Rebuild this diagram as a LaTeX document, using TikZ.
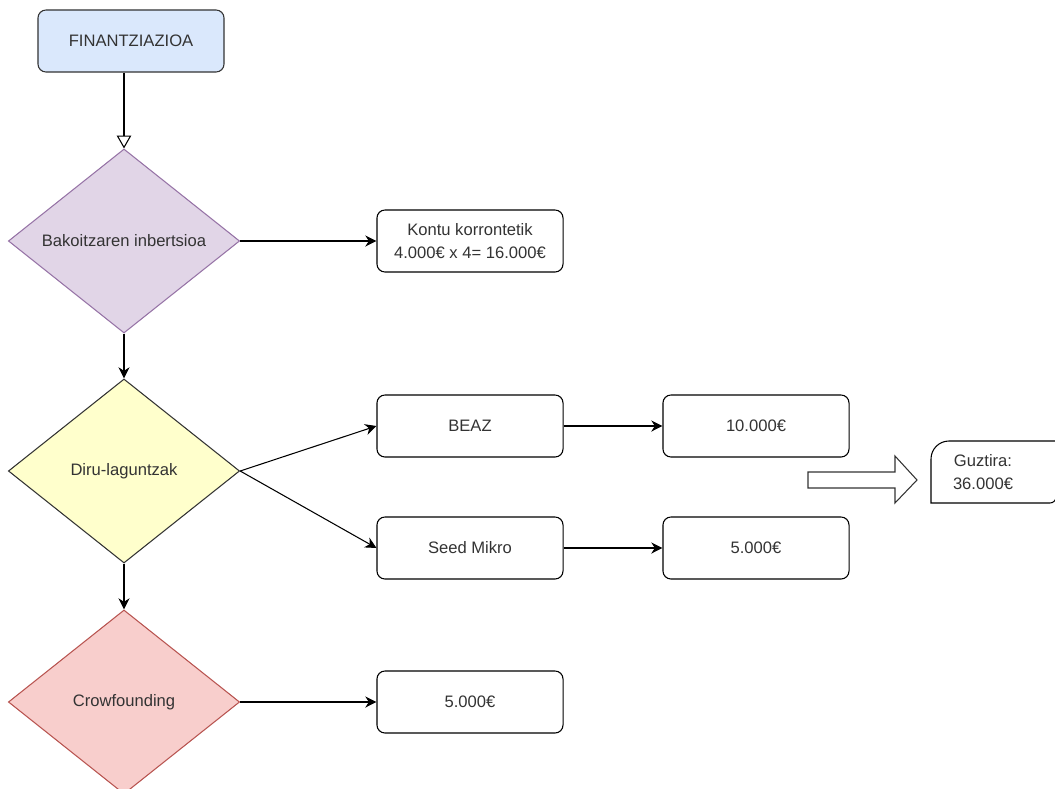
\documentclass[tikz,border=0pt]{standalone}
\usepackage{fontspec}
\setmainfont{Liberation Sans}
\usetikzlibrary{shapes.geometric,arrows.meta}
\definecolor{finblue}{HTML}{DAE8FC}
\definecolor{bakpurple}{HTML}{E1D5E7}
\definecolor{bakline}{HTML}{9673A6}
\definecolor{diruyellow}{HTML}{FFFFCC}
\definecolor{crowred}{HTML}{F8CECC}
\definecolor{crowline}{HTML}{B85450}
\definecolor{textgray}{HTML}{333333}
\begin{document}
\begin{tikzpicture}[x=0.025cm, y=-0.025cm,
    every node/.style={font=\fontsize{11.8}{16}\selectfont, text=textgray},
    box/.style={rectangle, rounded corners=0.2cm, draw=black, line width=0.75pt,
      minimum width=4.65cm, minimum height=1.55cm, align=center, inner sep=1pt},
    decision/.style={diamond, draw, line width=0.75pt, minimum width=5.78cm,
      minimum height=4.6cm, inner sep=0pt},
    flow/.style={-{Stealth[length=2.8mm,width=2.8mm,inset=0.9mm]}, line width=0.75pt}]
   \useasboundingbox (0,0) rectangle (1055,789);
   \clip (0,0) rectangle (1055,789);
   \node[box, fill=finblue, draw=textgray] (fin) at (131,41) {FINANTZIAZIOA};
   \node[decision, fill=bakpurple, draw=bakline] (bak) at (124,241) {Bakoitzaren inbertsioa};
   \node[decision, fill=diruyellow, draw=textgray] (diru) at (124,471) {Diru-laguntzak};
   \node[decision, fill=crowred, draw=crowline] (crow) at (124,702) {Crowfounding};
   \node[box] (kontu) at (470,241) {Kontu korrontetik\\4.000€ x 4= 16.000€};
   \node[box] (beaz) at (470,426) {BEAZ};
   \node[box] (seed) at (470,548) {Seed Mikro};
   \node[box] (hamar) at (756,426) {10.000€};
   \node[box] (bost) at (756,548) {5.000€};
   \node[box] (crowbox) at (470,702) {5.000€};
   \node[align=center] (guztira) at (983,472) {Guztira:\\36.000€};
   \draw[line width=0.75pt, -{Triangle[open,length=3.2mm,width=3.6mm]}] (bak.north |- fin.south) to (bak.north);
   \draw[flow] (bak) to (diru);
   \draw[flow] (diru) to (crow);
   \draw[flow] (bak.east) to (kontu.west);
   \draw[flow] (diru.east) to (beaz.west);
   \draw[flow] (diru.east) to (seed.west);
   \draw[flow] (beaz) to (hamar);
   \draw[flow] (seed) to (bost);
   \draw[flow] (crow.east) to (crowbox.west);
   % total arrow and total card
   \draw[line width=0.75pt, draw=textgray] (808,472) -- (895,472) -- (895,456) -- (917,480)
      -- (895,503) -- (895,488) -- (808,488) -- cycle;
   \draw[line width=0.75pt] (1070,441) [rounded corners=0.45cm]-- (931,441)
      [sharp corners]-- (931,503) [rounded corners=0.15cm]-- (1056,503) -- (1056,440);
 \end{tikzpicture}
\end{document}
